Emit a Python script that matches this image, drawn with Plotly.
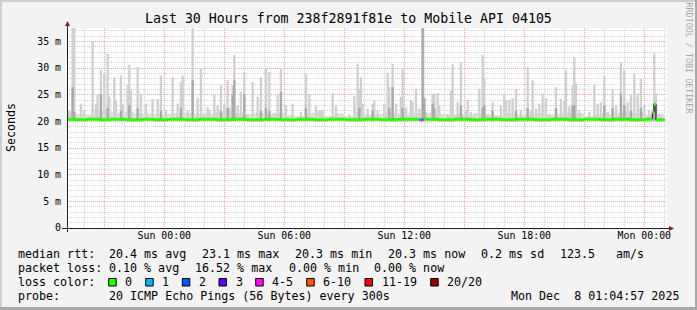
import plotly.graph_objects as go

# ---------------- data ----------------
title_text = "Last 30 Hours from 238f2891f81e to Mobile API 04105"
y_tick_vals = [0, 5, 10, 15, 20, 25, 30, 35]
y_tick_text = ["0", "5 m", "10 m", "15 m", "20 m", "25 m", "30 m", "35 m"]
x_tick_times = ["2025-12-06 21:00", "2025-12-07 00:00", "2025-12-07 03:00", "2025-12-07 06:00",
                "2025-12-07 09:00", "2025-12-07 12:00", "2025-12-07 15:00", "2025-12-07 18:00",
                "2025-12-07 21:00", "2025-12-08 00:00"]
x_tick_text = ["", "Sun 00:00", "", "Sun 06:00", "", "Sun 12:00", "", "Sun 18:00", "", "Mon 00:00"]
x_range = ["2025-12-06 19:08:06", "2025-12-08 01:08:06"]

# low smoke present almost everywhere: half-hour blocks (start time, top in ms)
low_smoke_time = [
    "2025-12-06 19:00", "2025-12-06 19:30", "2025-12-06 20:00", "2025-12-06 20:30", "2025-12-06 21:00",
    "2025-12-06 21:30", "2025-12-06 22:00", "2025-12-06 22:30", "2025-12-06 23:00", "2025-12-06 23:30",
    "2025-12-07 00:00", "2025-12-07 00:30", "2025-12-07 01:00", "2025-12-07 01:30", "2025-12-07 02:00",
    "2025-12-07 02:30", "2025-12-07 03:00", "2025-12-07 03:30", "2025-12-07 04:00", "2025-12-07 04:30",
    "2025-12-07 05:00", "2025-12-07 05:30", "2025-12-07 06:00", "2025-12-07 06:30", "2025-12-07 07:00",
    "2025-12-07 07:30", "2025-12-07 08:00", "2025-12-07 08:30", "2025-12-07 09:00", "2025-12-07 09:30",
    "2025-12-07 10:00", "2025-12-07 10:30", "2025-12-07 11:00", "2025-12-07 11:30", "2025-12-07 12:00",
    "2025-12-07 12:30", "2025-12-07 13:00", "2025-12-07 13:30", "2025-12-07 14:00", "2025-12-07 14:30",
    "2025-12-07 15:00", "2025-12-07 15:30", "2025-12-07 16:00", "2025-12-07 16:30", "2025-12-07 17:00",
    "2025-12-07 17:30", "2025-12-07 18:00", "2025-12-07 18:30", "2025-12-07 19:00", "2025-12-07 19:30",
    "2025-12-07 20:00", "2025-12-07 20:30", "2025-12-07 21:00", "2025-12-07 21:30", "2025-12-07 22:00",
    "2025-12-07 22:30", "2025-12-07 23:00", "2025-12-07 23:30", "2025-12-08 00:00", "2025-12-08 00:30",
]
low_smoke_ms = [
    21.8, 21.4, 21.3, 22.0, 21.8, 21.6, 21.8, 21.5, 21.5, 21.3,
    21.4, 21.6, 21.6, 21.4, 21.5, 21.7, 21.9, 21.6, 21.3, 21.6,
    21.5, 21.6, 21.2, 21.0, 21.6, 21.8, 21.0, 21.5, 20.9, 21.8,
    21.3, 21.4, 21.8, 21.5, 21.6, 21.5, 21.6, 21.4, 21.2, 21.4,
    21.1, 21.6, 21.3, 21.1, 21.5, 21.3, 21.4, 21.5, 21.3, 21.5,
    21.6, 21.5, 21.0, 21.4, 21.4, 21.6, 21.7, 21.6, 21.3, 21.4,
]

# smoke: per 5-minute step, top of the outer (light) smoke and of the inner (darker) smoke, ms
smoke_time = [
    "2025-12-06 19:15", "2025-12-06 19:20", "2025-12-06 19:25", "2025-12-06 19:30", "2025-12-06 19:50",
    "2025-12-06 20:00", "2025-12-06 20:25", "2025-12-06 20:35", "2025-12-06 20:40", "2025-12-06 20:50",
    "2025-12-06 21:00", "2025-12-06 21:10", "2025-12-06 21:15", "2025-12-06 21:30", "2025-12-06 21:35",
    "2025-12-06 21:50", "2025-12-06 21:55", "2025-12-06 22:10", "2025-12-06 22:15", "2025-12-06 22:20",
    "2025-12-06 22:40", "2025-12-06 22:50", "2025-12-06 23:05", "2025-12-06 23:25", "2025-12-06 23:40",
    "2025-12-06 23:50", "2025-12-07 00:05", "2025-12-07 00:25", "2025-12-07 00:40", "2025-12-07 00:50",
    "2025-12-07 00:55", "2025-12-07 01:10", "2025-12-07 01:25", "2025-12-07 01:40", "2025-12-07 01:50",
    "2025-12-07 02:00", "2025-12-07 02:10", "2025-12-07 02:15", "2025-12-07 02:30", "2025-12-07 02:40",
    "2025-12-07 02:50", "2025-12-07 03:00", "2025-12-07 03:10", "2025-12-07 03:15", "2025-12-07 03:25",
    "2025-12-07 03:30", "2025-12-07 03:40", "2025-12-07 03:50", "2025-12-07 04:00", "2025-12-07 04:10",
    "2025-12-07 04:25", "2025-12-07 04:40", "2025-12-07 04:50", "2025-12-07 05:05", "2025-12-07 05:15",
    "2025-12-07 05:30", "2025-12-07 05:40", "2025-12-07 05:50", "2025-12-07 06:05", "2025-12-07 06:25",
    "2025-12-07 06:50", "2025-12-07 07:05", "2025-12-07 07:15", "2025-12-07 07:35", "2025-12-07 07:45",
    "2025-12-07 07:50", "2025-12-07 07:55", "2025-12-07 08:25", "2025-12-07 08:35", "2025-12-07 09:15",
    "2025-12-07 09:30", "2025-12-07 09:40", "2025-12-07 09:45", "2025-12-07 09:50", "2025-12-07 09:55",
    "2025-12-07 10:10", "2025-12-07 10:25", "2025-12-07 10:30", "2025-12-07 10:40", "2025-12-07 11:00",
    "2025-12-07 11:10", "2025-12-07 11:15", "2025-12-07 11:25", "2025-12-07 11:35", "2025-12-07 11:50",
    "2025-12-07 11:55", "2025-12-07 12:05", "2025-12-07 12:20", "2025-12-07 12:25", "2025-12-07 12:35",
    "2025-12-07 12:45", "2025-12-07 12:55", "2025-12-07 13:00", "2025-12-07 13:05", "2025-12-07 13:25",
    "2025-12-07 13:30", "2025-12-07 13:40", "2025-12-07 13:45", "2025-12-07 14:10", "2025-12-07 14:20",
    "2025-12-07 14:25", "2025-12-07 14:35", "2025-12-07 14:40", "2025-12-07 14:50", "2025-12-07 15:05",
    "2025-12-07 15:10", "2025-12-07 15:20", "2025-12-07 15:30", "2025-12-07 15:45", "2025-12-07 15:55",
    "2025-12-07 16:00", "2025-12-07 16:10", "2025-12-07 16:25", "2025-12-07 16:35", "2025-12-07 16:50",
    "2025-12-07 17:00", "2025-12-07 17:05", "2025-12-07 17:15", "2025-12-07 17:25", "2025-12-07 17:35",
    "2025-12-07 17:50", "2025-12-07 18:10", "2025-12-07 18:20", "2025-12-07 18:25", "2025-12-07 18:35",
    "2025-12-07 18:45", "2025-12-07 18:55", "2025-12-07 19:05", "2025-12-07 19:15", "2025-12-07 19:35",
    "2025-12-07 19:50", "2025-12-07 20:00", "2025-12-07 20:05", "2025-12-07 20:15", "2025-12-07 20:25",
    "2025-12-07 20:30", "2025-12-07 20:35", "2025-12-07 20:45", "2025-12-07 21:15", "2025-12-07 21:30",
    "2025-12-07 21:40", "2025-12-07 21:50", "2025-12-07 22:00", "2025-12-07 22:10", "2025-12-07 22:25",
    "2025-12-07 22:35", "2025-12-07 22:50", "2025-12-07 23:00", "2025-12-07 23:10", "2025-12-07 23:20",
    "2025-12-07 23:30", "2025-12-07 23:40", "2025-12-07 23:50", "2025-12-08 00:00", "2025-12-08 00:15",
    "2025-12-08 00:30", "2025-12-08 00:35", "2025-12-08 00:45",
]
smoke_max = [
    22.1, 21.6, 37.5, 37.5, 23.3,
    22.1, 35.0, 23.3, 25.1, 29.6,
    28.9, 32.7, 24.6, 28.3, 23.9,
    28.6, 23.3, 26.8, 30.6, 25.8,
    30.2, 25.1, 23.3, 24.2, 24.2,
    28.6, 22.1, 28.3, 23.3, 27.4,
    28.6, 22.1, 37.5, 24.4, 30.0,
    21.4, 22.6, 22.1, 25.0, 23.0,
    26.75, 23.3, 27.7, 22.6, 26.75,
    32.4, 23.0, 25.5, 29.25, 21.4,
    27.4, 24.6, 28.3, 30.0, 29.25,
    21.4, 25.1, 30.0, 23.0, 23.3,
    21.75, 28.9, 25.0, 23.0, 22.1,
    22.1, 22.1, 25.3, 23.0, 21.3,
    24.75, 30.8, 26.1, 28.3, 23.3,
    22.4, 23.3, 23.9, 22.1, 23.3,
    29.1, 26.4, 30.8, 23.3, 24.6,
    29.75, 22.6, 24.0, 23.6, 26.0,
    22.4, 37.5, 24.4, 21.75, 25.2,
    25.2, 25.3, 23.0, 21.4, 25.8,
    30.7, 21.1, 23.6, 31.1, 22.1,
    24.0, 21.75, 21.4, 26.1, 32.4,
    28.0, 21.4, 23.6, 21.1, 23.0,
    25.2, 24.0, 24.0, 24.3, 26.1,
    22.1, 30.2, 22.1, 27.7, 22.4,
    23.3, 25.2, 24.4, 21.4, 26.4,
    24.2, 23.9, 29.6, 22.75, 26.75,
    32.0, 27.1, 22.1, 21.75, 26.9,
    23.3, 23.6, 28.6, 21.75, 26.1,
    23.0, 31.1, 29.6, 23.6, 24.9,
    28.9, 25.2, 28.0, 23.0, 22.1,
    32.7, 25.2, 21.4,
]
smoke_mid = [
    None, None, 26.4, 21.8, None,
    None, None, None, None, 25.1,
    None, 22.5, None, None, None,
    22.0, None, None, 23.0, None,
    22.5, None, None, None, None,
    22.0, None, None, None, 22.5,
    None, None, 27.7, None, None,
    None, None, None, None, None,
    22.0, None, 22.5, None, 25.0,
    27.7, None, None, 25.1, None,
    None, None, 22.0, 22.5, 22.0,
    None, None, 25.5, None, None,
    None, 22.5, None, None, None,
    None, None, None, None, None,
    None, None, 22.5, None, None,
    None, 22.0, None, None, None,
    None, 22.5, 26.4, None, None,
    22.5, None, None, None, None,
    None, 37.5, 24.4, None, 23.3,
    22.5, None, None, None, None,
    None, None, None, 23.0, None,
    None, None, None, None, 22.5,
    23.0, None, 22.0, None, None,
    None, None, None, None, 22.0,
    None, 22.5, None, None, None,
    None, None, None, None, 22.5,
    None, None, None, None, 23.0,
    23.0, None, None, None, None,
    None, None, 23.0, None, 22.5,
    None, 25.2, 23.0, None, 22.0,
    None, None, 22.5, None, None,
    23.5, None, None,
]
smoke_floor = 20.1

# median rtt as a step function (value holds until the next time); lost pings out of 20
median_time = [
    "2025-12-06 19:05", "2025-12-06 19:35", "2025-12-06 20:10", "2025-12-06 20:45", "2025-12-06 21:20",
    "2025-12-06 22:05", "2025-12-06 22:55", "2025-12-06 23:30", "2025-12-07 00:15", "2025-12-07 01:00",
    "2025-12-07 01:45", "2025-12-07 02:35", "2025-12-07 03:20", "2025-12-07 04:05", "2025-12-07 05:00",
    "2025-12-07 05:45", "2025-12-07 06:40", "2025-12-07 07:30", "2025-12-07 08:15", "2025-12-07 09:05",
    "2025-12-07 10:00", "2025-12-07 10:50", "2025-12-07 11:40", "2025-12-07 12:45", "2025-12-07 12:50",
    "2025-12-07 12:57", "2025-12-07 13:40", "2025-12-07 14:30", "2025-12-07 15:15", "2025-12-07 16:05",
    "2025-12-07 16:50", "2025-12-07 17:40", "2025-12-07 18:30", "2025-12-07 19:20", "2025-12-07 20:10",
    "2025-12-07 21:00", "2025-12-07 21:45", "2025-12-07 22:30", "2025-12-07 23:15", "2025-12-08 00:05",
    "2025-12-08 00:24", "2025-12-08 00:29", "2025-12-08 00:35", "2025-12-08 01:02",
]
median_ms = [
    20.4, 20.3, 20.4, 20.3, 20.4,
    20.3, 20.4, 20.3, 20.4, 20.3,
    20.4, 20.3, 20.4, 20.3, 20.4,
    20.3, 20.4, 20.3, 20.4, 20.3,
    20.4, 20.3, 20.4, 20.3, 20.3,
    20.4, 20.3, 20.4, 20.3, 20.4,
    20.3, 20.4, 20.3, 20.4, 20.3,
    20.4, 20.3, 20.4, 20.3, 20.4,
    21.7, 23.2, 20.3, 20.3,
]
median_loss = [0] * 23 + [1, 4] + [0] * 19

loss_labels = ["0", "1", "2", "3", "4-5", "6-10", "11-19", "20/20"]
loss_colors = ["#26ff00", "#00b8ff", "#0059ff", "#5e00ff", "#ff00ff", "#ff5500", "#ff0000", "#a10000"]
loss_upper = [0, 1, 2, 3, 5, 10, 19, 20]

rtt_stats = ["20.4 ms avg", "23.1 ms max", "20.3 ms min", "20.3 ms now", "0.2 ms sd", "123.5", "am/s"]
loss_stats = ["0.10 % avg", "16.52 % max", "0.00 % min", "0.00 % now"]
probe_text = "20 ICMP Echo Pings (56 Bytes) every 300s"
stamp_text = "Mon Dec  8 01:04:57 2025"

# ---------------- layout geometry (pixels) ----------------
W, H = 697, 310
PL, PR, PT, PB = 67, 667, 28, 228
FONT = "DejaVu Sans Mono"


def px(x):
    return (x - PL) / (PR - PL)


def py(y):
    return (PB - y) / (PB - PT)


fig = go.Figure()

# low smoke blocks
half_hour_ms = 1800000
fig.add_trace(go.Bar(x=low_smoke_time, y=[v - smoke_floor for v in low_smoke_ms], base=smoke_floor,
                     width=half_hour_ms, offset=0, marker=dict(color="#dedede", line=dict(width=0)),
                     hoverinfo="skip"))

# smoke spikes (outer light, then inner darker)
bar_w = 420000
fig.add_trace(go.Bar(x=smoke_time, y=[v - smoke_floor for v in smoke_max], base=smoke_floor,
                     width=bar_w, marker=dict(color="#d0d0d0", line=dict(width=0)),
                     hoverinfo="skip"))
mid_t = [t for t, m in zip(smoke_time, smoke_mid) if m is not None]
mid_v = [m - smoke_floor for m in smoke_mid if m is not None]
fig.add_trace(go.Bar(x=mid_t, y=mid_v, base=smoke_floor, width=bar_w,
                     marker=dict(color="#a9a9a9", line=dict(width=0)), hoverinfo="skip"))

# median: thin dark step line, then loss coloured band on each step
fig.add_trace(go.Scatter(x=median_time, y=median_ms, mode="lines",
                         line=dict(color="#000000", width=1, shape="hv"), hoverinfo="skip"))


def loss_bucket(n):
    for i, u in enumerate(loss_upper):
        if n <= u:
            return i
    return len(loss_upper) - 1


seg = {}
for i in range(len(median_time) - 1):
    b = loss_bucket(median_loss[i])
    xs, ys = seg.setdefault(b, ([], []))
    xs += [median_time[i], median_time[i + 1], None]
    ys += [median_ms[i], median_ms[i], None]
for b, (xs, ys) in seg.items():
    fig.add_trace(go.Scatter(x=xs, y=ys, mode="lines", line=dict(color=loss_colors[b], width=3),
                             hoverinfo="skip"))

shapes = []
# frame shading
shapes.append(dict(type="rect", xref="paper", yref="paper", x0=px(0), x1=px(2), y0=py(H), y1=py(0),
                   line=dict(width=0), fillcolor="#cfcfcf", layer="below"))
shapes.append(dict(type="rect", xref="paper", yref="paper", x0=px(0), x1=px(W), y0=py(2), y1=py(0),
                   line=dict(width=0), fillcolor="#cfcfcf", layer="below"))
shapes.append(dict(type="rect", xref="paper", yref="paper", x0=px(W - 2), x1=px(W), y0=py(H), y1=py(0),
                   line=dict(width=0), fillcolor="#a8a8a8", layer="below"))
shapes.append(dict(type="rect", xref="paper", yref="paper", x0=px(0), x1=px(W), y0=py(H), y1=py(H - 3),
                   line=dict(width=0), fillcolor="#a8a8a8", layer="below"))
# axes
shapes.append(dict(type="line", xref="paper", yref="paper", x0=px(62), x1=px(670), y0=py(228.5), y1=py(228.5),
                   line=dict(color="#202020", width=1)))
shapes.append(dict(type="line", xref="paper", yref="paper", x0=px(67.5), x1=px(67.5), y0=py(232), y1=py(25),
                   line=dict(color="#202020", width=1)))
shapes.append(dict(type="path", xref="paper", yref="paper",
                   path=f"M {px(65)} {py(26)} L {px(70)} {py(26)} L {px(67.5)} {py(21)} Z",
                   line=dict(width=0), fillcolor="#8a1e1e"))
shapes.append(dict(type="path", xref="paper", yref="paper",
                   path=f"M {px(669)} {py(226)} L {px(669)} {py(231)} L {px(674)} {py(228.5)} Z",
                   line=dict(width=0), fillcolor="#8a1e1e"))

annotations = []


def ann(text, x, y, size=11.66, anchor="left", color="#000000", angle=0):
    annotations.append(dict(text=text.replace(" ", "\u00a0"), x=px(x), y=py(y), xref="paper", yref="paper",
                            xanchor=anchor, yanchor="middle", showarrow=False, textangle=angle,
                            font=dict(family=FONT, size=size, color=color)))


ann(title_text, 348, 18.5, size=13.25, anchor="center")
ann("Seconds", 11, 128, anchor="center", angle=-90)
ann("RRDTOOL / TOBI OETIKER", 688.5, 58, size=8.4, anchor="center", color="#a8a8a8", angle=90)

ann("median rtt:", 16, 254)
for t, x in zip(rtt_stats, [107.3, 200, 293.3, 386, 479.3, 558.3, 614.3]):
    ann(t, x, 254)
ann("packet loss:", 16, 268.3)
for t, x in zip(loss_stats, [107.3, 193.3, 286.7, 372.3]):
    ann(t, x, 268.3)
ann("loss color:", 16, 282.3)
for lab, col, bx in zip(loss_labels, loss_colors, [108.7, 145.7, 182.3, 219, 255.7, 306.7, 365, 430.7]):
    shapes.append(dict(type="rect", xref="paper", yref="paper", x0=px(bx), x1=px(bx + 7.5),
                       y0=py(286), y1=py(278.5), fillcolor=col, line=dict(color="#000000", width=1)))
    ann(lab, bx + 14.6, 282.3)
ann("probe:", 16, 296)
ann(probe_text, 107.3, 296)
ann(stamp_text, 680.5, 296, anchor="right")

grid_minor = "#d4d4d4"
grid_major = "#f2a4a4"
tick_font = dict(family=FONT, size=9.9, color="#000000")
fig.update_layout(
    width=W, height=H, margin=dict(l=PL, r=W - PR, t=PT, b=H - PB, pad=0),
    paper_bgcolor="#f3f3f3", plot_bgcolor="#ffffff",
    showlegend=False, hovermode=False, barmode="overlay",
    font=dict(family=FONT, size=9.9, color="#000000"),
    shapes=shapes, annotations=annotations,
    xaxis=dict(type="date", range=x_range, tickmode="array", tickvals=x_tick_times, ticktext=x_tick_text,
               showgrid=True, gridcolor=grid_major, griddash="1px,1px", gridwidth=1,
               zeroline=False, showline=False, ticks="", tickfont=tick_font,
               minor=dict(tickmode="linear", tick0="2025-12-06 19:00", dtick=3600000, showgrid=True,
                          gridcolor=grid_minor, griddash="1px,1px", gridwidth=1),
               fixedrange=True),
    yaxis=dict(range=[0, 37.5], tickmode="array", tickvals=y_tick_vals, ticktext=y_tick_text,
               showgrid=True, gridcolor=grid_major, griddash="1px,1px", gridwidth=1,
               zeroline=False, showline=False, ticks="", ticklabelstandoff=5,
               tickfont=tick_font,
               minor=dict(tickmode="linear", tick0=0, dtick=1, showgrid=True,
                          gridcolor=grid_minor, griddash="1px,1px", gridwidth=1),
               fixedrange=True),
)

fig.write_html("out.html")
